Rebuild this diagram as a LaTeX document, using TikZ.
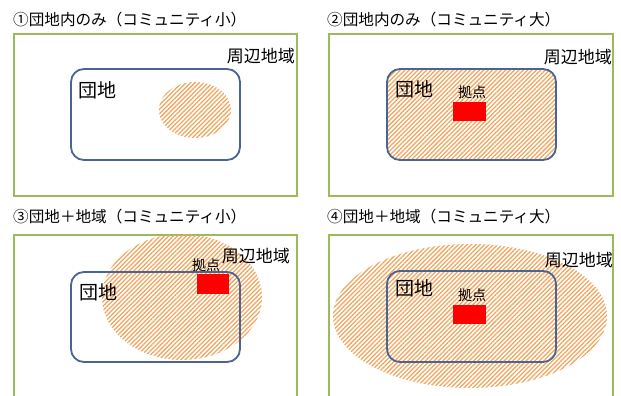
\documentclass[tikz,border=0pt]{standalone}
\usepackage{fontspec}
\setmainfont{Noto Sans CJK JP}
\usetikzlibrary{patterns.meta}
\definecolor{outergreen}{HTML}{9BBB59}
\definecolor{danchiblue}{HTML}{4A6590}
\definecolor{hatchorange}{HTML}{F2A35C}
\tikzset{
  outerbox/.style={draw=outergreen, line width=1.8pt},
  danchibox/.style={draw=danchiblue, line width=1.8pt, rounded corners=13pt},
  hatched/.style={pattern={Lines[angle=45,distance=3.1pt,line width=1.25pt]}, pattern color=hatchorange},
  kyoten/.style={fill=red, draw=none},
  titlelbl/.style={inner sep=0pt, anchor=west, font=\fontsize{15.6pt}{17pt}\selectfont},
  arealbl/.style={inner sep=0pt, anchor=east, font=\fontsize{17pt}{19pt}\selectfont},
  danchilbl/.style={inner sep=0pt, anchor=west, font=\fontsize{19pt}{21pt}\selectfont},
  kyotenlbl/.style={inner sep=0pt, font=\fontsize{14pt}{16pt}\selectfont},
}
\begin{document}
\begin{tikzpicture}[x=1pt,y=1pt]
\useasboundingbox (0,0) rectangle (621,396);
% ---------- Panel 1 ----------
\node[titlelbl] (t1) at (13,376) {①団地内のみ（コミュニティ小）};
\draw[outerbox] (14,362) rectangle (297,200);
\draw[danchibox] (71,327) rectangle (240,236);
\fill[hatched] (195,286) ellipse [x radius=36, y radius=28];
\node[danchilbl] (d1) at (78,306) {団地};
\node[arealbl] (a1) at (295,340) {周辺地域};
% ---------- Panel 2 ----------
\node[titlelbl] (t2) at (327,376) {②団地内のみ（コミュニティ大）};
\draw[outerbox] (329,362) rectangle (613,200);
\fill[hatched, rounded corners=13pt] (387,327) rectangle (556,236);
\draw[danchibox] (387,327) rectangle (556,236);
\fill[kyoten] (453,294) rectangle (486,275);
\node[danchilbl] (d2) at (395,307) {団地};
\node[kyotenlbl] (k2) at (472,304) {拠点};
\node[arealbl] (a2) at (612,339) {周辺地域};
% ---------- Panel 3 ----------
\node[titlelbl] (t3) at (13,179) {③団地＋地域（コミュニティ小）};
\draw[outerbox] (14,-5) -- (14,161) -- (297,161) -- (297,-5);
\fill[hatched] (182,99) ellipse [x radius=80, y radius=63];
\draw[danchibox] (71,124) rectangle (240,34);
\fill[kyoten] (197,122) rectangle (229,102);
\node[danchilbl] (d3) at (79,104) {団地};
\node[kyotenlbl] (k3) at (206,131) {拠点};
\node[arealbl] (a3) at (290,140) {周辺地域};
% ---------- Panel 4 ----------
\node[titlelbl] (t4) at (327,179) {④団地＋地域（コミュニティ大）};
\draw[outerbox] (329,-5) -- (329,161) -- (613,161) -- (613,-5);
\fill[hatched] (470,80) ellipse [x radius=137, y radius=72];
\draw[danchibox] (387,125) rectangle (556,34);
\fill[kyoten] (453,91) rectangle (486,72);
\node[danchilbl] (d4) at (395,108) {団地};
\node[kyotenlbl] (k4) at (472,101) {拠点};
\node[arealbl] (a4) at (613,136) {周辺地域};
\end{tikzpicture}
\end{document}
